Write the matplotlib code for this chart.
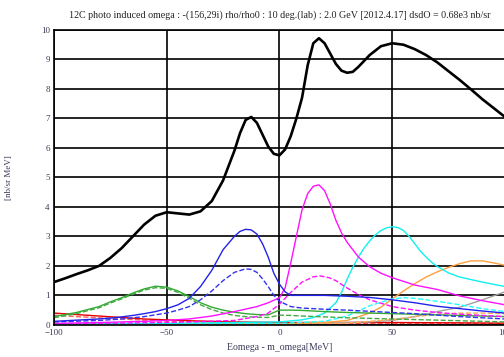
import matplotlib
matplotlib.use("Agg")
import matplotlib.pyplot as plt

# --- curves: x = Eomega - m_omega [MeV], y = d2sigma [nb/sr MeV] ---
total_x = [-100, -95, -90, -85, -80, -75, -70, -65, -60, -55, -50, -45, -40, -35, -30, -25, -20,
           -17.5, -15, -12.5, -10, -7.5, -5, -2.5, 0, 2.5, 5, 7.5, 10, 12.5, 15, 17.5, 20, 22.5,
           25, 27.5, 30, 32.5, 35, 40, 45, 50, 55, 60, 65, 70, 75, 80, 85, 90, 95, 100]
total_y = [1.45, 1.58, 1.72, 1.85, 2.0, 2.27, 2.6, 3.0, 3.4, 3.7, 3.82, 3.78, 3.74, 3.85, 4.2,
           4.9, 5.9, 6.5, 6.95, 7.05, 6.85, 6.45, 6.05, 5.8, 5.75, 5.95, 6.4, 7.0, 7.7, 8.8, 9.55,
           9.72, 9.55, 9.2, 8.85, 8.62, 8.55, 8.58, 8.75, 9.15, 9.45, 9.55, 9.5, 9.35, 9.15, 8.9,
           8.6, 8.3, 7.98, 7.65, 7.35, 7.05]

blue_x = [-100, -90, -80, -75, -70, -65, -60, -55, -50, -45, -40, -35, -30, -25, -20, -17.5, -15,
          -12.5, -10, -7.5, -5, -2.5, 0, 2.5, 5, 10, 20, 30, 40, 50, 60, 70, 80, 90, 100]
blue_y = [0.12, 0.16, 0.2, 0.23, 0.27, 0.32, 0.38, 0.45, 0.55, 0.68, 0.9, 1.3, 1.85, 2.55, 3.0,
          3.17, 3.24, 3.22, 3.08, 2.75, 2.3, 1.75, 1.38, 1.12, 1.0, 1.0, 1.0, 0.97, 0.93, 0.85,
          0.75, 0.63, 0.55, 0.47, 0.4]

blue_d_x = [-100, -80, -70, -60, -50, -45, -40, -35, -30, -25, -20, -15, -12.5, -10, -7.5, -5,
            -2.5, 0, 5, 10, 20, 30, 40, 50, 60, 70, 80, 90, 100]
blue_d_y = [0.1, 0.15, 0.2, 0.28, 0.4, 0.5, 0.62, 0.85, 1.15, 1.5, 1.78, 1.9, 1.88, 1.78, 1.56,
            1.3, 1.0, 0.8, 0.62, 0.57, 0.53, 0.5, 0.46, 0.42, 0.38, 0.33, 0.28, 0.24, 0.2]

mag_x = [-100, -80, -60, -50, -40, -30, -20, -10, -5, 0, 2.5, 5, 7.5, 10, 12.5, 15, 17.5, 20,
         22.5, 25, 27.5, 30, 35, 40, 45, 50, 60, 70, 80, 90, 100]
mag_y = [0.05, 0.08, 0.12, 0.15, 0.2, 0.3, 0.45, 0.62, 0.75, 0.92, 1.25, 2.1, 3.0, 3.9, 4.45,
         4.7, 4.75, 4.55, 4.1, 3.55, 3.12, 2.8, 2.3, 1.97, 1.75, 1.6, 1.35, 1.2, 0.98, 0.82, 0.68]

mag_d_x = [-100, -60, -40, -20, -10, -5, 0, 5, 10, 15, 18, 22, 25, 30, 35, 40, 50, 60, 70, 80,
           90, 100]
mag_d_y = [0.04, 0.07, 0.1, 0.15, 0.28, 0.4, 0.7, 1.1, 1.45, 1.63, 1.66, 1.6, 1.5, 1.25, 1.03,
           0.85, 0.62, 0.5, 0.42, 0.36, 0.32, 0.28]

cyan_x = [-100, -50, 0, 10, 15, 20, 25, 27.5, 30, 32.5, 35, 37.5, 40, 42.5, 45, 47.5, 50, 52.5,
          55, 57.5, 60, 62.5, 65, 67.5, 70, 75, 80, 90, 100]
cyan_y = [0.03, 0.05, 0.1, 0.17, 0.25, 0.4, 0.75, 1.1, 1.55, 1.95, 2.3, 2.6, 2.85, 3.05, 3.2,
          3.29, 3.33, 3.3, 3.2, 3.0, 2.75, 2.5, 2.3, 2.12, 1.98, 1.76, 1.62, 1.45, 1.3]

cyan_d_x = [-100, 0, 20, 30, 40, 50, 55, 60, 70, 80, 90, 100]
cyan_d_y = [0.02, 0.05, 0.12, 0.3, 0.65, 0.88, 0.92, 0.9, 0.8, 0.68, 0.55, 0.45]

orange_x = [-100, 0, 20, 30, 40, 45, 50, 55, 60, 65, 70, 75, 80, 85, 90, 95, 100]
orange_y = [0.01, 0.03, 0.08, 0.15, 0.4, 0.6, 0.88, 1.15, 1.4, 1.62, 1.8, 1.95, 2.08, 2.17,
            2.17, 2.1, 2.02]

orange_d_x = [-100, 0, 30, 50, 60, 70, 80, 90, 100]
orange_d_y = [0.01, 0.02, 0.06, 0.18, 0.28, 0.36, 0.4, 0.4, 0.38]

gray_x = [-100, 0, 40, 50, 60, 70, 80, 90, 100]
gray_y = [0.01, 0.03, 0.1, 0.15, 0.28, 0.45, 0.6, 0.85, 1.12]

green_x = [-100, -90, -80, -75, -70, -65, -60, -55, -50, -45, -40, -35, -30, -25, -20, -15,
           -10, -5, 0, 5, 10, 20, 30, 40, 50, 60, 70, 80, 90, 100]
green_y = [0.28, 0.42, 0.62, 0.78, 0.92, 1.08, 1.22, 1.31, 1.28, 1.15, 0.96, 0.75, 0.6, 0.5,
           0.43, 0.38, 0.35, 0.34, 0.5, 0.5, 0.49, 0.45, 0.42, 0.4, 0.38, 0.36, 0.34, 0.32,
           0.3, 0.28]
green_d_y = [0.24, 0.38, 0.58, 0.74, 0.88, 1.04, 1.18, 1.26, 1.24, 1.1, 0.9, 0.68, 0.52, 0.4,
             0.32, 0.28, 0.26, 0.25, 0.33, 0.32, 0.3, 0.27, 0.24, 0.22, 0.2, 0.18, 0.16, 0.14,
             0.12, 0.1]

red_x = [-100, -90, -80, -70, -60, -50, -40, -20, 0, 50, 100]
red_y = [0.4, 0.35, 0.3, 0.25, 0.2, 0.17, 0.14, 0.1, 0.08, 0.08, 0.06]
red_d_y = [0.33, 0.28, 0.24, 0.2, 0.16, 0.13, 0.11, 0.08, 0.06, 0.05, 0.04]

xticks = [-100, -50, 0, 50, 100]
yticks = list(range(0, 11))

title = ("12C photo induced omega : -(156,29i) rho/rho0 : 10 deg.(lab) : 2.0 GeV "
         "[2012.4.17] dsdO = 0.68e3 nb/sr")

plt.rcParams['font.family'] = ['Liberation Serif', 'DejaVu Serif']

fig = plt.figure(figsize=(5.04, 3.57), dpi=100)
ax = fig.add_axes([0.107, 0.09, 0.895, 0.826])

# smaller contributions first, total on top
ax.plot(red_x, red_d_y, color='#ff6060', lw=1.0, ls='--')
ax.plot(red_x, red_y, color='#e00000', lw=1.0)
ax.plot(gray_x, gray_y, color='#a0a0a0', lw=1.0)
ax.plot(orange_d_x, orange_d_y, color='#ffaa55', lw=1.0, ls='--')
ax.plot(orange_x, orange_y, color='#ffa040', lw=1.0)
ax.plot(cyan_d_x, cyan_d_y, color='#22ffff', lw=1.0, ls='--')
ax.plot(cyan_x, cyan_y, color='#11f0f0', lw=1.0)
ax.plot(green_x, green_d_y, color='#44aa44', lw=1.0, ls='--')
ax.plot(green_x, green_y, color='#33aa33', lw=1.0)
ax.plot(mag_d_x, mag_d_y, color='#ff11ff', lw=1.0, ls='--')
ax.plot(mag_x, mag_y, color='#ff11ff', lw=1.0)
ax.plot(blue_d_x, blue_d_y, color='#3333ee', lw=1.0, ls='--')
ax.plot(blue_x, blue_y, color='#2222ee', lw=1.0)
ax.plot(total_x, total_y, color='black', lw=1.9)

ax.set_xlim(-100, 100)
ax.set_ylim(0, 10)
ax.set_xticks(xticks)
ax.set_yticks(yticks)
ax.grid(True, color='black', lw=1.2)
ax.set_axisbelow(True)
ax.tick_params(length=0, labelsize=6.5, labelcolor='#3a3a5a', pad=3)
for s in ax.spines.values():
    s.set_color('black')
    s.set_linewidth(1.2)

ax.set_xlabel('Eomega - m_omega[MeV]', fontsize=7, color='#3a3a5a', labelpad=4)
ax.set_ylabel('[nb/sr MeV]', fontsize=6.5, color='#3a3a5a', labelpad=20)
fig.text(0.555, 0.958, title, ha='center', va='center', fontsize=7.2, color='#222222')

fig.savefig('out.png', dpi=100)
